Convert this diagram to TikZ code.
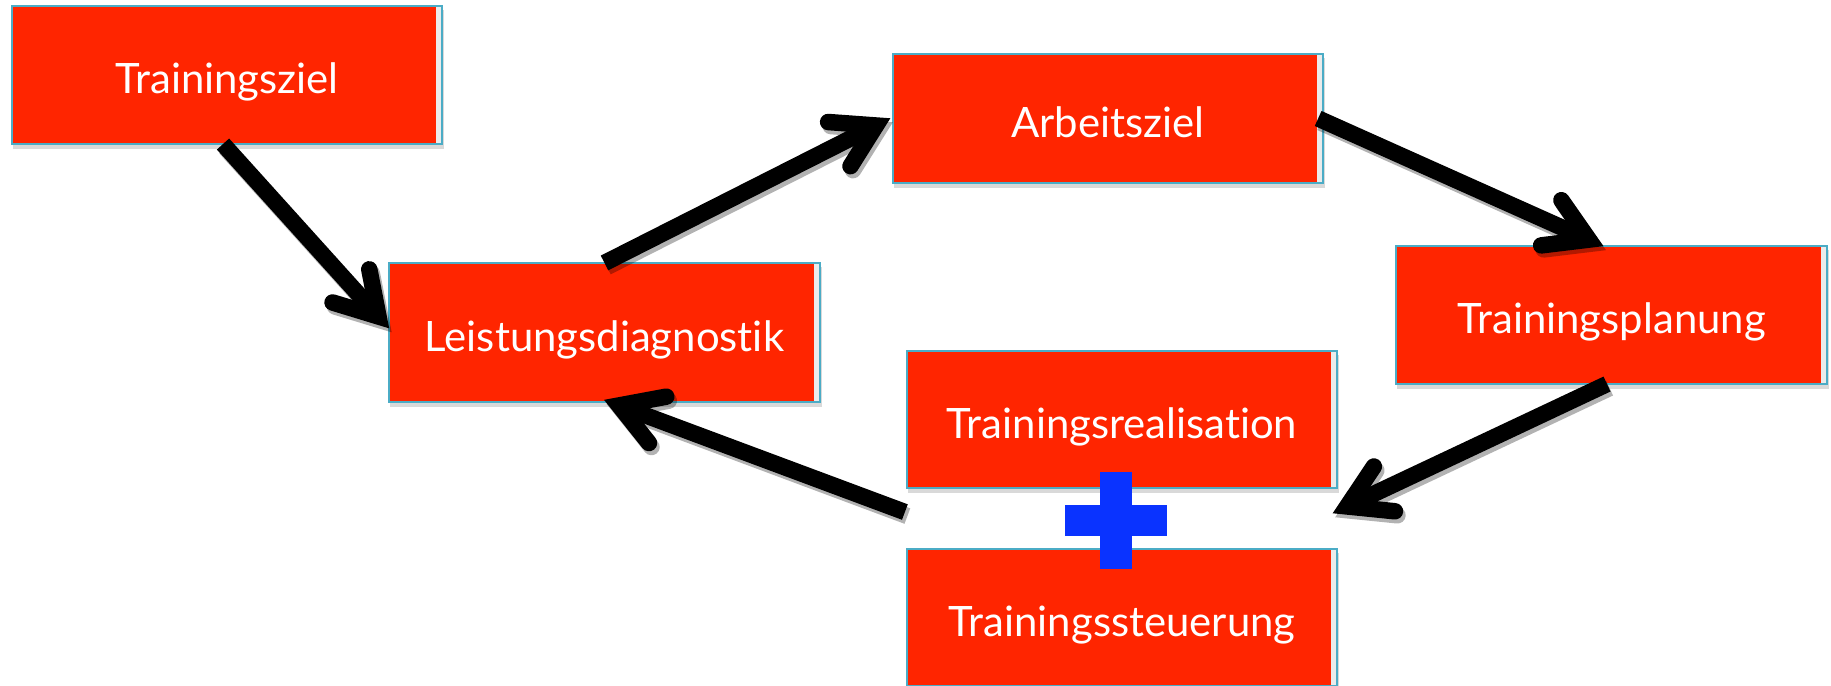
\documentclass[tikz,border=0pt]{standalone}
\usepackage{fontspec}
\setmainfont{Lato}[Ligatures={NoCommon}]
\usetikzlibrary{calc,shadows}
\definecolor{boxred}{HTML}{FF2500}
\definecolor{boxline}{HTML}{4BACC6}
\definecolor{plusblue}{HTML}{0A33FF}
\tikzset{
  box/.style={rectangle, fill=boxred, draw=boxline, line width=0.02cm,
    outer sep=0pt, inner sep=0pt, minimum width=4.3cm, minimum height=1.38cm,
    text=white, font=\fontsize{11.9}{14}\selectfont, text height=0.37cm, text depth=0pt,
    drop shadow={shadow xshift=0.015cm, shadow yshift=-0.045cm, opacity=0.3},
    path picture={\fill[white!92!black] ([xshift=-0.06cm]path picture bounding box.north east) rectangle (path picture bounding box.south east);}},
  shaft/.style={line width=0.165cm, line cap=butt},
  barb/.style={line width=0.165cm, line cap=round, line join=miter},
}
\newcommand\arrowfromto[2]{%
  \coordinate (V) at ($(#2)!0.155cm!(#1)$);
  \draw[shaft] (#1) -- (V);
  \draw[barb] ($(V)!0.48cm!31:(#1)$) -- (V) -- ($(V)!0.48cm!-31:(#1)$);
}
\newcommand\allarrows{%
  \arrowfromto{a1s}{a1t}
  \arrowfromto{a2s}{a2t}
  \arrowfromto{a3s}{a3t}
  \arrowfromto{a4s}{a4t}
  \arrowfromto{a5s}{a5t}
}
\begin{document}
\begin{tikzpicture}[x=0.01cm, y=-0.01cm]
\useasboundingbox (0,0) rectangle (1831,685);
\node[box] (n1) at (227,75) {Trainingsziel};
\node[box, minimum width=4.31cm, minimum height=1.39cm] (n2) at (604.5,332.5) {Leistungsdiagnostik};
\node[box, minimum height=1.29cm] (n3) at (1108,118.5) {Arbeitsziel};
\node[box, minimum width=4.31cm] (n4) at (1611.5,315) {Trainingsplanung};
\node[box, minimum height=1.37cm] (n5) at (1122,419.5) {Trainingsrealisation};
\node[box, minimum height=1.37cm] (n6) at (1122,617.5) {Trainingssteuerung};
% arrow end points
\coordinate (a1s) at ([xshift=-0.04cm]n1.south);
\coordinate (a1t) at ([yshift=0.045cm]n2.west);
\coordinate (a2s) at (n2.north);
\coordinate (a2t) at ([xshift=-0.03cm]n3.west);
\coordinate (a3s) at ([xshift=-0.05cm]n3.east);
\coordinate (a3t) at ([xshift=-0.085cm]n4.north);
\coordinate (a4s) at ([xshift=-0.045cm]n4.south);
\coordinate (a4t) at ([xshift=-0.04cm,yshift=-0.25cm]n5.south east);
\coordinate (a5s) at ([xshift=-0.02cm,yshift=-0.24cm]n5.south west);
\coordinate (a5t) at ([yshift=0.02cm]n2.south);
% arrow shadows
\begin{scope}[transparency group, opacity=0.3, transform canvas={xshift=0.025cm, yshift=-0.04cm}]
  \allarrows
\end{scope}
\allarrows
% plus sign
\fill[plusblue] (1100,472) rectangle (1132,569);
\fill[plusblue] (1065,505) rectangle (1167,536);
\end{tikzpicture}
\end{document}
